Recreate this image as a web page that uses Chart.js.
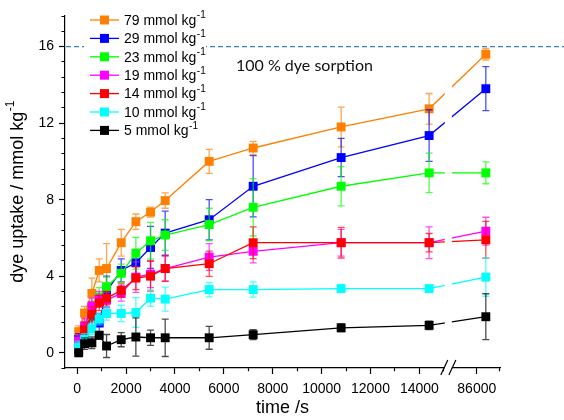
<!DOCTYPE html>
<html lang="en">
<head>
<meta charset="UTF-8">
<title>Dye uptake</title>
<script src="https://cdn.jsdelivr.net/npm/chart.js@4.4.1/dist/chart.umd.min.js"></script>
<style>
  html, body { margin: 0; padding: 0; background: #fff; }
</style>
</head>
<body>
<canvas id="myChart" width="564" height="420"></canvas>
<script>
// sampling times in seconds
const times = [60, 300, 600, 900, 1200, 1800, 2400, 3000, 3600, 5400, 7200, 10800, 14400, 86400];

const seriesNames = ['79 mmol kg', '29 mmol kg', '23 mmol kg', '19 mmol kg', '14 mmol kg', '10 mmol kg', '5 mmol kg'];
const seriesColors = ['#ff8000', '#0000ff', '#00ff00', '#ff00ff', '#ff0000', '#00ffff', '#000000'];

// dye uptake / mmol kg-1
const uptake79 = [1.1, 2.07, 3.1, 4.3, 4.4, 5.75, 6.85, 7.35, 7.95, 10.0, 10.7, 11.8, 12.75, 15.6];
const uptake29 = [0.7, 1.0, 1.9, 1.55, 3.2, 4.3, 4.7, 5.5, 6.25, 6.95, 8.7, 10.2, 11.35, 13.8];
const uptake23 = [0.5, 1.2, 2.2, 2.9, 3.45, 4.15, 5.2, 5.85, 6.15, 6.7, 7.6, 8.7, 9.4, 9.4];
const uptake19 = [0.6, 1.4, 2.45, 2.8, 2.75, 3.1, 3.95, 4.1, 4.4, 5.0, 5.3, 5.75, 5.75, 6.35];
const uptake14 = [0.15, 1.2, 2.0, 2.6, 2.85, 3.25, 3.9, 4.0, 4.4, 4.65, 5.75, 5.75, 5.75, 5.9];
const uptake10 = [0.3, 0.7, 1.25, 1.75, 2.05, 2.05, 2.1, 2.85, 2.8, 3.3, 3.3, 3.35, 3.35, 3.95];
const uptake5  = [0.0, 0.47, 0.52, 0.91, 0.35, 0.68, 0.82, 0.78, 0.78, 0.78, 0.94, 1.3, 1.43, 1.88];

// standard deviations
const err79 = [0.3, 0.35, 0.8, 0.6, 1.3, 0.7, 0.4, 0.26, 0.4, 0.63, 0.35, 1.04, 0.8, 0.3];
const err29 = [0.3, 0.4, 0.5, 0.5, 0.8, 0.6, 0.7, 1.1, 1.15, 1.05, 1.6, 1.0, 1.35, 1.15];
const err23 = [0.3, 0.4, 0.5, 0.5, 0.5, 0.48, 0.83, 0.96, 0.8, 0.85, 1.5, 1.03, 1.03, 0.57];
const err19 = [0.3, 0.4, 0.4, 0.4, 0.4, 0.4, 0.8, 0.7, 0.65, 0.7, 0.6, 0.7, 0.83, 0.73];
const err14 = [0.3, 0.4, 0.4, 0.4, 0.35, 0.35, 0.6, 0.78, 0.67, 0.66, 0.83, 0.8, 0.48, 0.96];
const err10 = [0.3, 0.3, 0.3, 0.3, 0.35, 0.43, 0.78, 0.43, 0.63, 0.38, 0.4, 0.2, 0.15, 1.0];
const err5  = [0.2, 0.3, 0.3, 0.2, 0.6, 0.37, 1.0, 0.4, 0.98, 0.6, 0.26, 0.2, 0.22, 1.2];

const xTickValues = [0, 1000, 2000, 3000, 4000, 5000, 6000, 7000, 8000, 9000, 10000, 11000, 12000, 13000, 14000, 15000, 86000, 87000];
const xTickLabels = ['0', '', '2000', '', '4000', '', '6000', '', '8000', '', '10000', '', '12000', '', '14000', '', '86000', ''];
const yTickLabels = ['0', '4', '8', '12', '16'];

const allUptake = [uptake79, uptake29, uptake23, uptake19, uptake14, uptake10, uptake5];
const allErr = [err79, err29, err23, err19, err14, err10, err5];

// broken x axis: everything after 15000 s is pulled in next to the break
function mapTime(t) {
  return t <= 15000 ? t : 16350 + (t - 86000) * 0.925;
}

const datasets = allUptake.map((vals, i) => ({
  label: seriesNames[i],
  data: vals.map((v, j) => ({ x: mapTime(times[j]), y: v })),
  errors: allErr[i],
  borderColor: seriesColors[i],
  backgroundColor: seriesColors[i],
  borderWidth: 1.3,
  pointStyle: 'rect',
  pointRadius: 6.3,
  pointBorderWidth: 0,
  order: 6 - i
}));

function hexAlpha(hex, a) {
  const n = parseInt(hex.slice(1), 16);
  return 'rgba(' + (n >> 16) + ',' + ((n >> 8) & 255) + ',' + (n & 255) + ',' + a + ')';
}

function supText(ctx, x, y, base, sup, size, align) {
  ctx.font = size + 'px "Liberation Sans", Arial, sans-serif';
  const w1 = ctx.measureText(base).width;
  ctx.font = Math.round(size * 0.68) + 'px "Liberation Sans", Arial, sans-serif';
  const w2 = ctx.measureText(sup).width;
  let x0 = align === 'center' ? x - (w1 + w2) / 2 : x;
  ctx.textAlign = 'left';
  ctx.textBaseline = 'middle';
  ctx.font = size + 'px "Liberation Sans", Arial, sans-serif';
  ctx.fillText(base, x0, y);
  ctx.font = Math.round(size * 0.68) + 'px "Liberation Sans", Arial, sans-serif';
  ctx.fillText(sup, x0 + w1 + 0.5, y - size * 0.38);
}

const errorBars = {
  id: 'errorBars',
  beforeDatasetDraw(chart, args) {
    const ds = chart.data.datasets[args.index];
    const ys = chart.scales.y;
    const ctx = chart.ctx;
    ctx.save();
    ctx.strokeStyle = hexAlpha(ds.borderColor, 0.7);
    ctx.lineWidth = 1.3;
    args.meta.data.forEach((pt, i) => {
      const v = ds.data[i].y, e = ds.errors[i];
      const top = ys.getPixelForValue(v + e);
      const bot = ys.getPixelForValue(v - e);
      ctx.beginPath();
      ctx.moveTo(pt.x, top); ctx.lineTo(pt.x, bot);
      ctx.moveTo(pt.x - 3.5, top); ctx.lineTo(pt.x + 3.5, top);
      ctx.moveTo(pt.x - 3.5, bot); ctx.lineTo(pt.x + 3.5, bot);
      ctx.stroke();
    });
    ctx.restore();
  }
};

const extras = {
  id: 'extras',
  afterDatasetsDraw(chart) {
    const ctx = chart.ctx;
    const a = chart.chartArea;
    const xs = chart.scales.x;
    const bx1 = xs.getPixelForValue(15000) + 1;
    const bx2 = xs.getPixelForValue(15330);
    ctx.save();
    ctx.fillStyle = '#fff';
    ctx.fillRect(bx1, a.top, bx2 - bx1, a.bottom - a.top + 2);
    ctx.strokeStyle = '#000';
    ctx.lineWidth = 1.2;
    ctx.beginPath();
    ctx.moveTo(bx1 - 4, a.bottom + 7); ctx.lineTo(bx1 + 3, a.bottom - 8);
    ctx.moveTo(bx2 - 3, a.bottom + 7); ctx.lineTo(bx2 + 4, a.bottom - 8);
    ctx.stroke();
    ctx.restore();
  },
  afterDraw(chart) {
    const ctx = chart.ctx;
    const a = chart.chartArea;
    const ys = chart.scales.y;
    ctx.save();
    // 100 % line
    const y16 = ys.getPixelForValue(16);
    ctx.strokeStyle = '#3d7fc0';
    ctx.lineWidth = 1.2;
    ctx.setLineDash([5, 3]);
    ctx.beginPath();
    ctx.moveTo(a.left + 1, y16); ctx.lineTo(chart.width, y16);
    ctx.stroke();
    ctx.setLineDash([]);

    ctx.fillStyle = '#111';
    ctx.font = '16px Lato, "Open Sans", sans-serif';
    ctx.textAlign = 'left';
    ctx.textBaseline = 'middle';
    ctx.fillText('100 % dye sorption', 236, 66);

    // legend
    ctx.fillStyle = '#fff';
    ctx.fillRect(84, 9, 122, 131);
    chart.data.datasets.forEach((ds, i) => {
      const ry = 20 + i * 18.4;
      ctx.strokeStyle = ds.borderColor;
      ctx.lineWidth = 1.3;
      ctx.beginPath();
      ctx.moveTo(90, ry); ctx.lineTo(119, ry);
      ctx.stroke();
      ctx.fillStyle = ds.backgroundColor;
      ctx.fillRect(100, ry - 4.5, 9, 9);
      ctx.fillStyle = '#000';
      supText(ctx, 124, ry + 1, ds.label, '-1', 14, 'left');
    });

    // axis titles
    ctx.fillStyle = '#000';
    supText(ctx, (a.left + a.right) / 2, 408, 'time /s', '', 18, 'center');
    ctx.translate(18, (a.top + a.bottom) / 2);
    ctx.rotate(-Math.PI / 2);
    supText(ctx, 0, 0, 'dye uptake / mmol kg', '-1', 18, 'center');
    ctx.restore();
  }
};

const ctx = document.getElementById('myChart').getContext('2d');
const myChart = new Chart(ctx, {
  type: 'line',
  data: { datasets: datasets },
  options: {
    responsive: false,
    animation: false,
    layout: { padding: { top: 16, right: 64, left: 0, bottom: 0 } },
    plugins: { legend: { display: false }, tooltip: { enabled: false } },
    scales: {
      x: {
        type: 'linear',
        min: -500,
        max: 17300,
        afterFit(s) { s.height = 52; },
        afterBuildTicks(s) { s.ticks = xTickValues.map(v => ({ value: mapTime(v) })); },
        border: { display: true, color: '#000', width: 1.2 },
        grid: {
          drawOnChartArea: false,
          tickLength: 6,
          tickColor: '#000',
          tickWidth: 1.2,
          tickBorderDash: c => (xTickLabels[c.index] === '' ? [3, 100] : [])
        },
        ticks: {
          autoSkip: false,
          maxRotation: 0,
          padding: 7,
          color: '#000',
          font: { family: '"Liberation Sans", Arial, sans-serif', size: 14 },
          callback: (v, i) => xTickLabels[i]
        }
      },
      y: {
        min: -0.8,
        max: 17.6,
        afterFit(s) { s.width = 65; },
        afterBuildTicks(s) {
          const t = [];
          for (let k = 0; k <= 23; k++) t.push({ value: Math.round((k * 0.8 - 0.8) * 10) / 10 });
          s.ticks = t;
        },
        border: { display: true, color: '#000', width: 1.2 },
        grid: {
          drawOnChartArea: false,
          tickLength: 6,
          tickColor: '#000',
          tickWidth: 1.2,
          tickBorderDash: c => (c.tick && c.tick.value % 4 === 0 ? [] : [0, 2.5, 3, 100])
        },
        ticks: {
          autoSkip: false,
          padding: 5,
          color: '#000',
          font: { family: '"Liberation Sans", Arial, sans-serif', size: 14 },
          callback: v => (yTickLabels.includes(String(v)) ? String(v) : '')
        }
      }
    }
  },
  plugins: [errorBars, extras]
});
</script>
</body>
</html>
